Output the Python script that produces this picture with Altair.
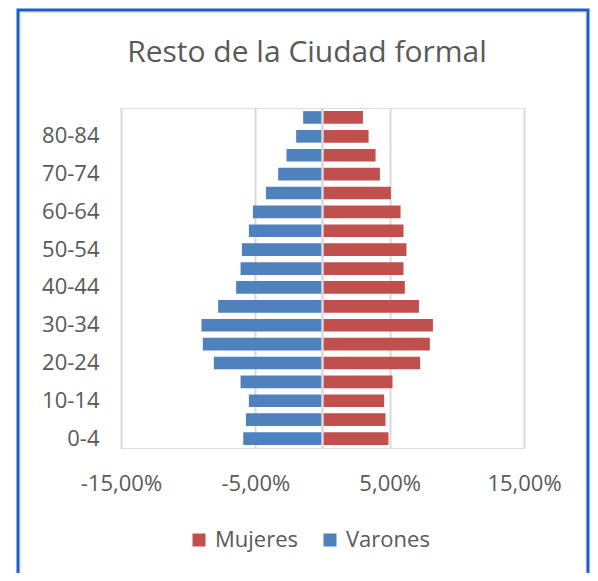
import altair as alt
import pandas as pd

title_text = "Resto de la Ciudad formal"
ages = ["0-4", "5-9", "10-14", "15-19", "20-24", "25-29", "30-34", "35-39", "40-44",
        "45-49", "50-54", "55-59", "60-64", "65-69", "70-74", "75-79", "80-84", "85+"]
varones = [5.90, 5.70, 5.48, 6.10, 8.09, 8.91, 9.01, 7.77, 6.43,
           6.10, 6.00, 5.48, 5.18, 4.21, 3.30, 2.68, 1.96, 1.44]
mujeres = [4.91, 4.69, 4.59, 5.21, 7.27, 7.99, 8.22, 7.18, 6.13,
           6.03, 6.25, 6.03, 5.81, 5.09, 4.27, 3.95, 3.43, 3.01]
shown_labels = ["0-4", "10-14", "20-24", "30-34", "40-44", "50-54", "60-64", "70-74", "80-84"]
x_ticks = [-15, -5, 5, 15]
series = ["Mujeres", "Varones"]
colors = ["#C0504D", "#4F81BD"]

rows = []
for a, v, m in zip(ages, varones, mujeres):
    rows.append({"edad": a, "sexo": "Varones", "valor": -v})
    rows.append({"edad": a, "sexo": "Mujeres", "valor": m})
df = pd.DataFrame(rows)

FONT = "Open Sans"
GREY = "#595959"

base = alt.Chart(df)

bars = base.mark_bar().encode(
    y=alt.Y("edad:N", sort=list(reversed(ages)),
            scale=alt.Scale(paddingInner=0.33, paddingOuter=0.165),
            axis=alt.Axis(title=None, values=shown_labels, ticks=False, tickSize=0,
                          domain=False, labelPadding=22, labelFontSize=22,
                          labelFont=FONT, labelColor=GREY, grid=False)),
    x=alt.X("valor:Q", stack=None,
            scale=alt.Scale(domain=[-15, 15], nice=False, zero=False),
            axis=alt.Axis(title=None, values=x_ticks, ticks=False, tickSize=0,
                          domain=False, labelPadding=25, labelFontSize=22,
                          labelFont=FONT, labelColor=GREY, labelFlush=False,
                          labelExpr="replace(replace(format(datum.value, '.2f'), '.', ','), '\u2212', '-') + '%'",
                          grid=True, gridColor="#D9D9D9", gridWidth=2)),
    color=alt.Color("sexo:N", scale=alt.Scale(domain=series, range=colors),
                    legend=alt.Legend(title=None, orient="none", direction="horizontal",
                                      legendX=67, legendY=421, symbolType="square",
                                      symbolSize=169, symbolStrokeWidth=0,
                                      labelFontSize=22, labelFont=FONT, labelColor=GREY,
                                      labelOffset=5, columnPadding=20, padding=0)),
)

zero_rule = alt.Chart(alt.Data(values=[{"z": 0}])).mark_rule(
    color="#D9D9D9", strokeWidth=2.5
).encode(x=alt.X("z:Q"))

title = alt.Chart(alt.Data(values=[{"t": title_text}])).mark_text(
    font=FONT, fontSize=30, color=GREY, align="center", baseline="alphabetic"
).encode(text="t:N", x=alt.value(186), y=alt.value(-46))

frame = alt.Chart(alt.Data(values=[{"f": 1}])).mark_rect(
    fill=None, stroke="#1A5DCC", strokeWidth=3
).encode(x=alt.value(-103), x2=alt.value(467), y=alt.value(-98), y2=alt.value(480))

frame_inner = alt.Chart(alt.Data(values=[{"f": 1}])).mark_rect(
    fill=None, stroke="#D9D9D9", strokeWidth=1
).encode(x=alt.value(-101), x2=alt.value(465), y=alt.value(-96), y2=alt.value(480))

chart = alt.layer(bars, zero_rule, title, frame_inner, frame).properties(
    width=403, height=340,
    autosize=alt.AutoSizeParams(type="none"),
    padding={"left": 113, "top": 100, "right": 66, "bottom": 125},
).configure_view(stroke=None).configure(background="white")

chart.save("out.html", embed_options={"renderer": "svg", "actions": False})
